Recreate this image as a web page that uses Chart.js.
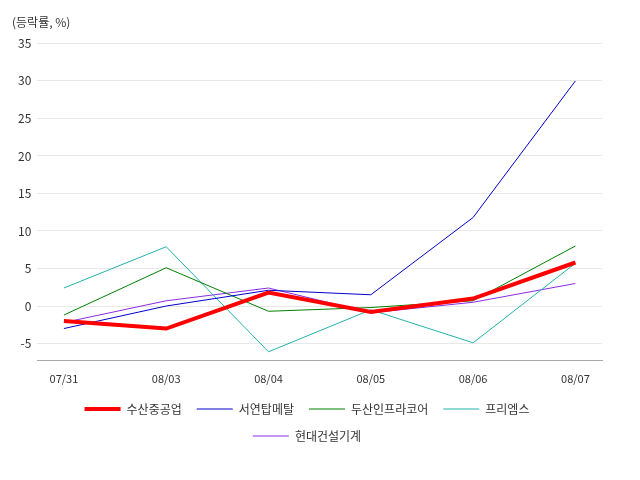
<!DOCTYPE html>
<html><head><meta charset="utf-8">
<script src="https://cdn.jsdelivr.net/npm/chart.js@4"></script>
<style>body{margin:0;background:#fff}#w{width:640px;height:480px}</style>
</head><body><div id="w"><canvas id="c"></canvas></div>
<script>
const categories = ["07/31","08/03","08/04","08/05","08/06","08/07"];
const seriesNames = ["수산중공업","서연탑메탈","두산인프라코어","프리엠스","현대건설기계"];
const suosan = [-2.0,-3.0,1.8,-0.8,1.0,5.8];
const seoyeon = [-3.0,0.0,2.1,1.5,11.8,30.0];
const doosan = [-1.2,5.1,-0.7,-0.2,0.7,8.0];
const friems = [2.4,7.9,-6.1,-0.5,-4.9,5.7];
const hyundai = [-2.2,0.7,2.4,-0.9,0.5,3.0];
const yTicks = [-5,0,5,10,15,20,25,30,35];
const colors = ["#ff0000","#0000cd","#008000","#20b2aa","#8a2be2"];
const widths = [4,1,1,1,1];
const all = [suosan,seoyeon,doosan,friems,hyundai];
const font = "'Noto Sans CJK KR','Noto Sans',sans-serif";
new Chart(document.getElementById('c'),{
  type:'line',
  data:{datasets:all.map((d,i)=>({label:seriesNames[i],data:d.map((v,j)=>({x:j,y:v})),borderColor:colors[i],backgroundColor:colors[i],borderWidth:widths[i],pointRadius:0,tension:0,order:i===0?-1:i}))},
  options:{responsive:true,maintainAspectRatio:false,animation:false,
    layout:{padding:{left:12,right:38,top:0,bottom:28}},
    plugins:{
      title:{display:true,text:'(등락률, %)',align:'start',font:{family:font,size:12,weight:'normal'},color:'#333',padding:{top:15,bottom:14}},
      legend:{position:'bottom',labels:{usePointStyle:true,pointStyle:'line',pointStyleWidth:36,font:{family:font,size:12},color:'#333',padding:15}},
      tooltip:{enabled:false}},
    scales:{
      x:{type:'linear',min:-0.26,max:5.26,afterBuildTicks:s=>{s.ticks=categories.map((c,i)=>({value:i}));},
        ticks:{callback:(v)=>categories[v],font:{family:font,size:11},color:'#333',maxRotation:0,autoSkip:false},
        grid:{display:false},border:{color:'#aaa'}},
      y:{min:-7.3,max:35,afterBuildTicks:s=>{s.ticks=yTicks.map(v=>({value:v}));},
        ticks:{font:{family:font,size:12},color:'#333',padding:6},
        grid:{color:'#e8e8e8',drawTicks:false},border:{display:false}}
    }}
});
</script></body></html>
